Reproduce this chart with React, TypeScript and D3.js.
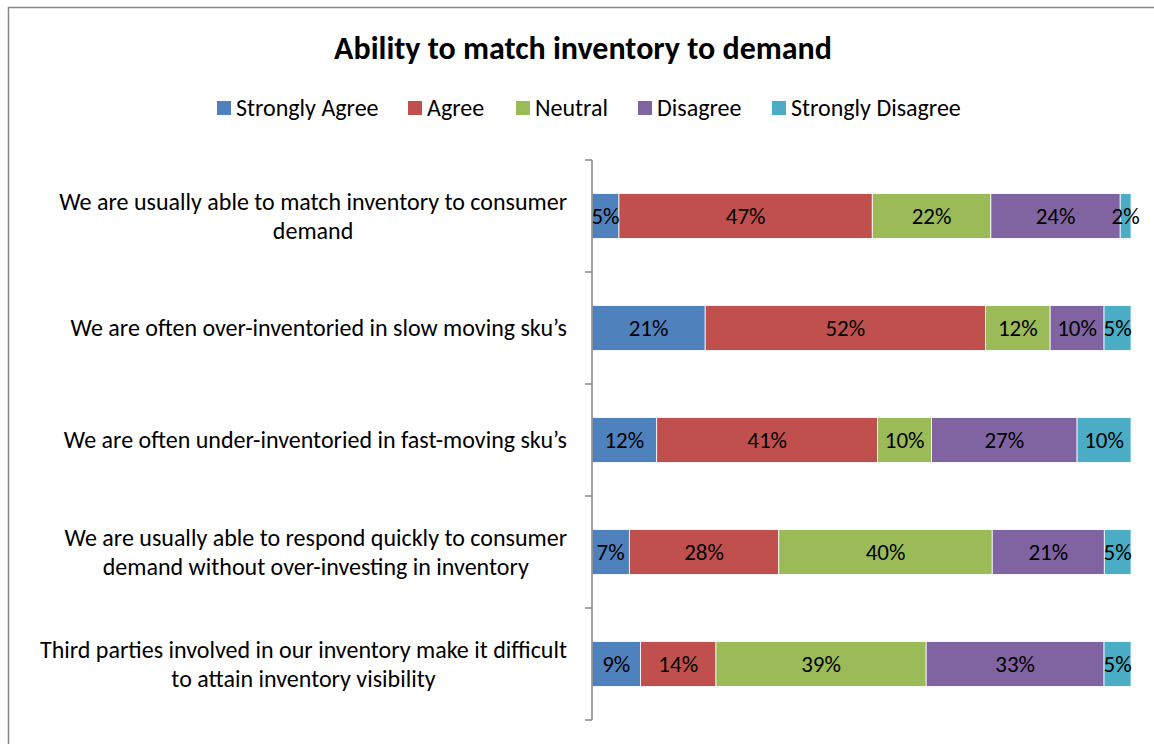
import React, { useRef, useEffect } from "react";
import * as d3 from "d3";

const title = "Ability to match inventory to demand";
const seriesNames = ["Strongly Agree", "Agree", "Neutral", "Disagree", "Strongly Disagree"];
const seriesColors = ["#4F81BD", "#C0504D", "#9BBB59", "#8064A2", "#4BACC6"];
const categories = [
  ["We are usually able to match inventory to consumer", "demand"],
  ["We are often over-inventoried in slow moving sku’s"],
  ["We are often under-inventoried in fast-moving sku’s"],
  ["We are usually able to respond quickly to consumer", "demand without over-investing in inventory"],
  ["Third parties involved in our inventory make it difficult", "to attain inventory visibility"],
];
const stronglyAgree = [5, 21, 12, 7, 9];
const agree = [47, 52, 41, 28, 14];
const neutral = [22, 12, 10, 40, 39];
const disagree = [24, 10, 27, 21, 33];
const stronglyDisagree = [2, 5, 10, 5, 5];

const FONT = "Carlito, Calibri, Lato, 'Open Sans', sans-serif";

export default function App() {
  const ref = useRef<SVGSVGElement>(null);
  const width = 1154;
  const height = 744;

  useEffect(() => {
    const container = ref.current;
    if (!container) return;
    d3.select(container).selectChildren().remove();
    const svg = d3.select(container).style("font-family", FONT);

    // Marco del gráfico
    svg
      .append("rect")
      .attr("x", 8.5)
      .attr("y", 7.5)
      .attr("width", width + 20)
      .attr("height", height + 20)
      .attr("fill", "white")
      .attr("stroke", "#868686")
      .attr("stroke-width", 1.5);

    // Título
    svg
      .append("text")
      .attr("x", 583)
      .attr("y", 59)
      .attr("text-anchor", "middle")
      .attr("font-weight", "bold")
      .style("font-size", "32px")
      .text(title);

    // Leyenda
    const legendX = [217, 408, 516, 638, 772];
    const legend = svg
      .append("g")
      .selectAll("g")
      .data(seriesNames)
      .join("g")
      .attr("transform", (_d, i) => `translate(${legendX[i]}, 108)`);
    legend
      .append("rect")
      .attr("x", 0)
      .attr("y", -7)
      .attr("width", 14)
      .attr("height", 14)
      .attr("fill", (_d, i) => seriesColors[i]);
    legend
      .append("text")
      .attr("x", 19)
      .attr("dy", "0.35em")
      .style("font-size", "24px")
      .text((d) => d);

    // Datos apilados al 100%
    const rows = categories.map((c, i) => ({
      key: i,
      "Strongly Agree": stronglyAgree[i],
      Agree: agree[i],
      Neutral: neutral[i],
      Disagree: disagree[i],
      "Strongly Disagree": stronglyDisagree[i],
    }));
    const stacked = d3
      .stack<any>()
      .keys(seriesNames)
      .offset(d3.stackOffsetExpand)(rows);

    const y = d3
      .scaleBand<number>()
      .domain(categories.map((_c, i) => i))
      .range([160, 720])
      .paddingInner(0.6)
      .paddingOuter(0.3);
    const x = d3.scaleLinear().domain([0, 1]).range([592, 1131]);

    const layer = svg
      .append("g")
      .selectAll("g")
      .data(stacked)
      .join("g")
      .attr("fill", (_d, i) => seriesColors[i]);
    layer
      .selectAll("rect")
      .data((d) => d)
      .join("rect")
      .attr("x", (d) => x(d[0]))
      .attr("y", (d) => y(d.data.key)!)
      .attr("width", (d) => x(d[1]) - x(d[0]))
      .attr("height", y.bandwidth())
      .attr("stroke", "white")
      .attr("stroke-width", 0.8);

    // Etiquetas de valor
    stacked.forEach((s) => {
      svg
        .append("g")
        .selectAll("text")
        .data(s)
        .join("text")
        .attr("x", (d) => (x(d[0]) + x(d[1])) / 2)
        .attr("y", (d) => y(d.data.key)! + y.bandwidth() / 2)
        .attr("dy", "0.35em")
        .attr("text-anchor", "middle")
        .style("font-size", "23px")
        .attr("fill", "#000")
        .text((d) => `${d.data[s.key]}%`);
    });

    // Eje vertical
    const axis = svg.append("g").attr("stroke", "#868686").attr("stroke-width", 1.5);
    axis
      .append("line")
      .attr("x1", 592)
      .attr("x2", 592)
      .attr("y1", y.range()[0])
      .attr("y2", y.range()[1]);
    axis
      .selectAll("line.tick")
      .data(d3.range(categories.length + 1))
      .join("line")
      .attr("class", "tick")
      .attr("x1", 585)
      .attr("x2", 592)
      .attr("y1", (i) => y.range()[0] + i * y.step())
      .attr("y2", (i) => y.range()[0] + i * y.step());

    // Rótulos de categorías (centrados entre sí, bloque alineado a la derecha)
    categories.forEach((lines, i) => {
      const g = svg.append("g");
      const cy = y(i)! + y.bandwidth() / 2;
      const lh = 29;
      const texts = lines.map((l, j) =>
        g
          .append("text")
          .attr("y", cy + (j - (lines.length - 1) / 2) * lh)
          .attr("dy", "0.35em")
          .attr("text-anchor", "middle")
          .style("font-size", "24px")
          .text(l)
      );
      const maxW = d3.max(texts, (t) => (t.node() as SVGTextElement).getComputedTextLength()) || 0;
      texts.forEach((t) => t.attr("x", 567 - maxW / 2));
    });
  }, []);

  return (
    <svg
      ref={ref}
      width={width}
      height={height}
      style={{ position: "absolute", left: 0, top: 0, background: "white" }}
    />
  );
}
